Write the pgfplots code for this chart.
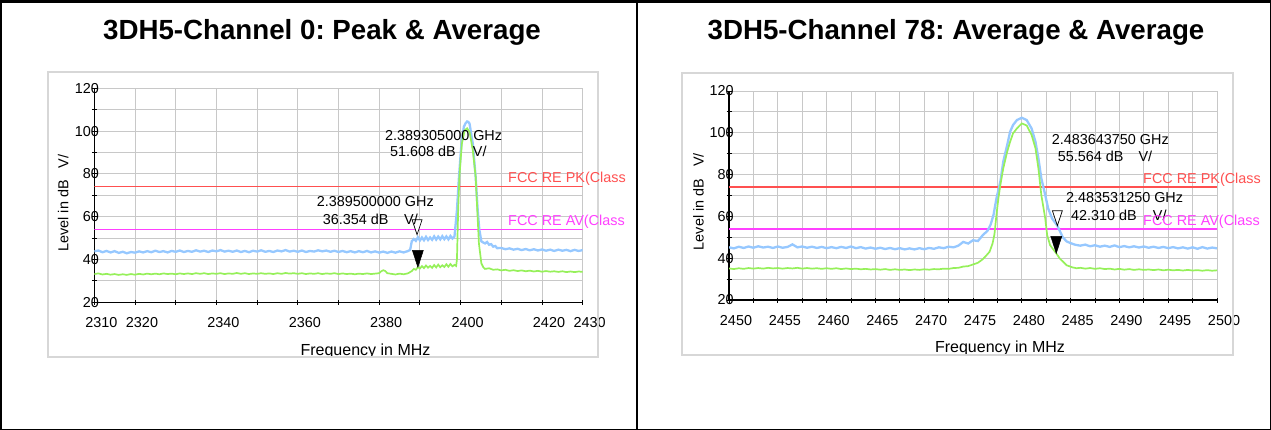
\documentclass[border=0pt]{standalone}
\usepackage{fontspec}
\setmainfont{Liberation Sans}
\usepackage{pgfplots}
\pgfplotsset{compat=1.18}
\frenchspacing
\definecolor{trblue}{RGB}{150,200,255}
\definecolor{trgreen}{RGB}{150,240,90}
\definecolor{limred}{RGB}{255,80,80}
\definecolor{limmag}{RGB}{255,64,255}
\definecolor{gridgray}{RGB}{200,200,200}
\definecolor{boxgray}{RGB}{215,215,215}
\newcommand{\tk}{\fontsize{14.4}{17}\selectfont}
\newcommand{\lb}{\fontsize{16}{19}\selectfont}
\newcommand{\ttl}{\fontsize{27.7}{32}\selectfont\bfseries}
\pgfdeclareplotmark{mkopen}{%
  \pgfpathmoveto{\pgfqpoint{0pt}{0pt}}%
  \pgfpathlineto{\pgfqpoint{-5pt}{15pt}}%
  \pgfpathlineto{\pgfqpoint{5pt}{15pt}}%
  \pgfpathclose\pgfusepathqfillstroke}
\pgfdeclareplotmark{mkfill}{%
  \pgfpathmoveto{\pgfqpoint{0pt}{0pt}}%
  \pgfpathlineto{\pgfqpoint{-5.5pt}{17pt}}%
  \pgfpathlineto{\pgfqpoint{5.5pt}{17pt}}%
  \pgfpathclose\pgfusepathqfillstroke}
\pgfplotsset{specax/.style={
  scale only axis, anchor=south west,
  axis x line*=bottom, axis y line*=left,
  axis line style={-, black, line width=1.2pt},
  grid=major, major grid style={gridgray, line width=0.9pt},
  ymin=20, ymax=120, ytick={20,30,...,120},
  yticklabels={20,,40,,60,,80,,100,,120},
  tick align=center, major tick length=5pt,
  tick style={black, line width=0.9pt},
  /pgf/number format/assume math mode=true,
  ticklabel style={font=\tk},
  xticklabel style={anchor=north, inner sep=0pt, xshift=7pt, yshift=-12.5pt},
  yticklabel style={anchor=east, inner sep=0pt, xshift=7.4pt},
  xlabel={Frequency in MHz}, ylabel={Level in dB\hspace{12pt}V/},
  xlabel style={at={(axis description cs:0.5,0)}, anchor=base, xshift=27pt, yshift=-52.7pt, inner sep=0pt, font=\lb},
  ylabel style={anchor=center, inner sep=0pt, font=\tk},
}}
\begin{document}
\begin{tikzpicture}
% ---------------- left panel ----------------
\begin{axis}[specax, at={(94.3pt,-302.3pt)}, width=488.4pt, height=214pt,
  xmin=2310, xmax=2430, xtick={2310,2320,...,2430},
  xticklabels={2310,2320,,2340,,2360,,2380,,2400,,2420,2430},
  ylabel style={at={(axis description cs:-0.0635,0.464)}}]
\addplot[limred, line width=1.3pt] coordinates {(2310,74) (2430,74)};
\addplot[limmag, line width=1.3pt] coordinates {(2310,54) (2430,54)};
\addplot[trblue, line width=2.3pt] coordinates {
(2310,43.8)(2311,44.2)(2312,43.4)(2313,44.0)(2314,43.3)(2315,43.9)(2316,43.1)(2317,43.6)(2318,42.9)(2319,43.5)
(2320,43.2)(2321,43.8)(2322,43.3)(2323,43.9)(2324,43.4)(2325,44.1)(2326,43.5)(2327,43.9)(2328,43.3)(2329,44.0)
(2330,43.6)(2331,44.2)(2332,43.5)(2333,44.0)(2334,43.6)(2335,44.3)(2336,43.7)(2337,44.1)(2338,43.5)(2339,44.2)
(2340,43.8)(2341,44.4)(2342,43.7)(2343,44.1)(2344,43.6)(2345,44.2)(2346,43.5)(2347,44.0)(2348,43.4)(2349,44.1)
(2350,43.7)(2351,44.3)(2352,43.6)(2353,44.0)(2354,43.5)(2355,44.2)(2356,43.8)(2357,44.4)(2358,43.7)(2359,44.1)
(2360,43.6)(2361,44.2)(2362,43.5)(2363,44.0)(2364,43.7)(2365,44.3)(2366,43.8)(2367,44.2)(2368,43.6)(2369,44.1)
(2370,43.5)(2371,44.0)(2372,43.4)(2373,43.9)(2374,43.3)(2375,43.9)(2376,43.4)(2377,44.0)(2378,43.3)(2379,43.8)
(2380,43.2)(2381,43.7)(2382,43.1)(2383,43.7)(2384,43.2)(2385,43.8)(2386,43.3)(2387,43.9)(2387.6,44.5)
(2388,48.5)(2388.5,49.6)(2389,48.7)(2389.5,50.4)(2390,48.9)(2390.5,50.3)(2391,49.0)(2391.5,50.6)(2392,49.1)(2392.5,50.3)
(2393,49.2)(2393.5,50.8)(2394,49.3)(2394.5,50.7)(2395,49.4)(2395.5,50.9)(2396,49.5)(2396.5,50.8)(2397,49.4)(2397.5,51.0)
(2398,49.8)(2398.5,50.8)(2399.1,63)(2399.6,78.6)(2400.2,94)(2400.8,102)(2401.2,103.6)(2401.6,104.5)(2401.9,104.3)(2402.2,103.5)
(2403.0,94)(2403.7,78.6)(2404.2,63)(2404.6,54)(2405.1,48.5)(2405.5,48.0)(2406,47.5)(2406.5,48.2)(2407,46.9)(2407.5,47.2)
(2408,46.0)(2408.5,46.3)(2409,45.3)(2410,45.4)(2411,44.8)(2412,45.2)(2413,44.6)(2414,45.0)(2415,44.4)(2416,44.9)
(2417,44.3)(2418,44.8)(2419,44.2)(2420,44.7)(2421,44.1)(2422,44.6)(2423,44.0)(2424,44.6)(2425,44.1)(2426,44.5)
(2427,43.9)(2428,44.5)(2429,44.0)(2430,44.4)};
\addplot[trgreen, line width=1.7pt] coordinates {
(2310,33.2)(2311,33.5)(2312,33.0)(2313,33.3)(2314,32.9)(2315,33.2)(2316,32.8)(2317,33.1)(2318,32.8)(2319,33.2)
(2320,32.9)(2321,33.3)(2322,33.0)(2323,33.4)(2324,33.1)(2325,33.4)(2326,33.1)(2327,33.5)(2328,33.2)(2329,33.4)
(2330,33.1)(2331,33.5)(2332,33.2)(2333,33.5)(2334,33.2)(2335,33.6)(2336,33.3)(2337,33.6)(2338,33.2)(2339,33.5)
(2340,33.3)(2341,33.6)(2342,33.2)(2343,33.5)(2344,33.3)(2345,33.7)(2346,33.3)(2347,33.6)(2348,33.2)(2349,33.5)
(2350,33.3)(2351,33.6)(2352,33.3)(2353,33.5)(2354,33.2)(2355,33.6)(2356,33.3)(2357,33.7)(2358,33.4)(2359,33.6)
(2360,33.3)(2361,33.6)(2362,33.2)(2363,33.5)(2364,33.3)(2365,33.6)(2366,33.2)(2367,33.5)(2368,33.3)(2369,33.6)
(2370,33.2)(2371,33.5)(2372,33.2)(2373,33.4)(2374,33.1)(2375,33.4)(2376,33.2)(2377,33.5)(2378,33.2)(2379,33.4)
(2380,33.6)(2380.5,34.5)(2381,35.0)(2381.5,34.6)(2382,33.6)(2383,33.3)(2384,33.0)(2385,33.4)(2386,33.1)(2387,33.5)
(2387.5,34.0)(2388,34.6)(2388.5,35.6)(2389,35.2)(2389.5,36.4)(2390,35.8)(2390.5,36.9)(2391,36.0)(2391.5,37.2)(2392,36.2)
(2392.5,37.0)(2393,36.1)(2393.5,37.4)(2394,36.3)(2394.5,37.6)(2395,36.4)(2395.5,37.3)(2396,36.5)(2396.5,37.8)(2397,36.6)
(2397.5,37.9)(2398,36.8)(2398.5,37.5)(2398.9,37.0)(2399.1,40)(2399.2,47.5)(2399.4,63)(2399.7,78.6)(2400.3,94)(2401.0,100.4)
(2401.6,101.3)(2402.2,99.6)(2403.0,91)(2403.7,78.6)(2404.1,63)(2404.5,47.5)(2405.1,38.2)(2405.6,36.3)(2406,35.6)(2407,35.9)
(2408,35.2)(2409,35.4)(2410,34.9)(2411,35.2)(2412,34.7)(2413,35.0)(2414,34.6)(2415,34.9)(2416,34.5)(2417,34.8)
(2418,34.4)(2419,34.7)(2420,34.3)(2421,34.6)(2422,34.3)(2423,34.5)(2424,34.2)(2425,34.5)(2426,34.1)(2427,34.4)
(2428,34.1)(2429,34.4)(2430,34.2)};
\addplot[only marks, mark=mkopen, mark options={draw=black, fill=white, line width=0.7pt}] coordinates {(2389.305,51.608)};
\addplot[only marks, mark=mkfill, mark options={draw=black, fill=black, line width=0.5pt}] coordinates {(2389.5,36.354)};
\end{axis}
% ---------------- right panel ----------------
\begin{axis}[specax, at={(729pt,-300pt)}, width=488pt, height=209pt,
  xmin=2450, xmax=2500, xtick={2450,2452.5,...,2500},
  xticklabels={2450,,2455,,2460,,2465,,2470,,2475,,2480,,2485,,2490,,2495,,2500},
  ylabel style={at={(axis description cs:-0.0625,0.47)}}]
\addplot[limred, line width=1.3pt] coordinates {(2450,74) (2500,74)};
\addplot[limmag, line width=1.3pt] coordinates {(2450,54) (2500,54)};
\addplot[trblue, line width=2.3pt] coordinates {
(2450,45.2)(2450.5,44.7)(2451,45.5)(2451.5,44.9)(2452,45.6)(2452.5,45.0)(2453,45.7)(2453.5,45.1)(2454,45.5)(2454.5,44.9)
(2455,45.6)(2455.5,45.0)(2456,45.4)(2456.5,46.6)(2457,45.2)(2457.5,45.6)(2458,45.0)(2458.5,45.5)(2459,44.9)(2459.5,45.4)
(2460,44.8)(2460.5,45.3)(2461,44.8)(2461.5,45.4)(2462,44.9)(2462.5,45.6)(2463,44.8)(2463.5,45.3)(2464,44.6)(2464.5,45.1)
(2465,44.5)(2465.5,45.0)(2466,44.4)(2466.5,44.9)(2467,44.3)(2467.5,44.8)(2468,44.2)(2468.5,44.7)(2469,44.2)(2469.5,44.8)
(2470,44.3)(2470.5,44.9)(2471,44.5)(2471.5,45.2)(2472,44.8)(2472.5,45.5)(2473,45.2)(2473.5,46.0)(2474,47.8)(2474.5,47.0)
(2475,48.6)(2475.5,48.2)(2476,51.0)(2476.5,53.2)(2476.8,56)(2477.1,60.7)(2477.4,68.6)(2477.8,76.6)(2478.1,86.2)(2478.5,94.1)
(2478.8,100.5)(2479.1,103.7)(2479.5,106.1)(2480.0,107.2)(2480.5,106.1)(2481.0,102.1)(2481.4,95.7)(2481.7,87.8)(2482.0,78.2)(2482.4,70.2)
(2482.7,63.8)(2483.1,59.0)(2483.64,55.56)(2484.2,50.0)(2484.6,48.0)(2485,47.2)(2485.5,46.4)(2486,46.0)(2486.5,46.5)(2487,45.7)
(2487.5,46.2)(2488,45.5)(2488.5,46.0)(2489,45.4)(2489.5,46.1)(2490,45.3)(2490.5,45.8)(2491,45.2)(2491.5,45.7)(2492,45.1)
(2492.5,45.6)(2493,45.0)(2493.5,45.5)(2494,44.9)(2494.5,45.4)(2495,44.8)(2495.5,45.3)(2496,44.7)(2496.5,45.2)(2497,44.6)
(2497.5,45.2)(2498,44.5)(2498.5,45.3)(2499,44.6)(2499.5,45.1)(2500,44.7)};
\addplot[trgreen, line width=1.7pt] coordinates {
(2450,35.1)(2450.5,34.8)(2451,35.2)(2451.5,34.9)(2452,35.3)(2452.5,35.0)(2453,35.3)(2453.5,35.0)(2454,35.4)(2454.5,35.1)
(2455,35.3)(2455.5,35.0)(2456,35.3)(2456.5,35.1)(2457,35.4)(2457.5,35.0)(2458,35.3)(2458.5,35.0)(2459,35.2)(2459.5,34.9)
(2460,35.2)(2460.5,34.9)(2461,35.2)(2461.5,34.8)(2462,35.1)(2462.5,34.8)(2463,35.0)(2463.5,34.7)(2464,34.9)(2464.5,34.6)
(2465,34.8)(2465.5,34.5)(2466,34.8)(2466.5,34.4)(2467,34.7)(2467.5,34.4)(2468,34.6)(2468.5,34.3)(2469,34.6)(2469.5,34.4)
(2470,34.7)(2470.5,34.5)(2471,34.8)(2471.5,34.7)(2472,35.0)(2472.5,34.9)(2473,35.3)(2473.5,35.4)(2474,36.0)(2474.5,36.2)
(2475,37.0)(2475.5,37.8)(2476,39.5)(2476.4,41.5)(2476.7,43.1)(2477.0,47)(2477.2,51.5)(2477.4,60.7)(2477.6,68.6)(2477.8,75.0)
(2478.1,83.0)(2478.5,90.9)(2478.8,95.7)(2479.1,99.7)(2479.5,102.1)(2480.0,104.5)(2480.5,103.5)(2481.0,99.0)(2481.4,92.6)(2481.7,83.0)
(2482.0,70.2)(2482.4,59.0)(2482.6,51.0)(2482.9,46.2)(2483.53,42.31)(2483.9,39.8)(2484.6,36.6)(2485.2,35.6)(2485.6,35.2)(2486,35.4)
(2486.5,35.0)(2487,35.3)(2487.5,34.9)(2488,35.2)(2488.5,34.8)(2489,35.0)(2489.5,34.6)(2490,34.9)(2490.5,34.5)(2491,34.8)
(2491.5,34.4)(2492,34.7)(2492.5,34.4)(2493,34.6)(2493.5,34.3)(2494,34.6)(2494.5,34.2)(2495,34.5)(2495.5,34.2)(2496,34.4)
(2496.5,34.1)(2497,34.4)(2497.5,34.1)(2498,34.3)(2498.5,34.0)(2499,34.3)(2499.5,34.0)(2500,34.2)};
\addplot[only marks, mark=mkopen, mark options={draw=black, fill=white, line width=0.7pt}] coordinates {(2483.64375,55.564)};
\addplot[only marks, mark=mkfill, mark options={draw=black, fill=black, line width=0.5pt}] coordinates {(2483.53125,42.31)};
\end{axis}
% boxes
\fill[white] (47pt,-357.5pt) rectangle (600pt,-362pt);
\fill[white] (681pt,-355.5pt) rectangle (1235pt,-360pt);
\draw[boxgray, line width=2pt] (48.3pt,-71.7pt) rectangle (598.3pt,-357.3pt);
\draw[boxgray, line width=2pt] (682.3pt,-72.7pt) rectangle (1233.3pt,-355pt);
% titles
\node[font=\ttl, anchor=base, inner sep=0pt] at (322pt,-39.9pt) {3DH5-Channel 0: Peak \& Average};
\node[font=\ttl, anchor=base, inner sep=0pt] at (956pt,-39.9pt) {3DH5-Channel 78: Average \& Average};
% annotations left
\begin{scope}[every node/.style={font=\tk, anchor=base west, inner sep=0pt}]
\node at (385pt,-140.2pt) {2.389305000 GHz};
\node at (390pt,-156.9pt) {51.608 dB};
\node at (472.7pt,-156.9pt) {V/};
\node at (316.7pt,-206.2pt) {2.389500000 GHz};
\node at (322.7pt,-224.2pt) {36.354 dB};
\node at (404pt,-224.2pt) {V/};
\node[text=limred] at (508pt,-182.5pt) {FCC RE PK(Class};
\node[text=limmag] at (508pt,-225.2pt) {FCC RE AV(Class};
% annotations right
\node at (1051.7pt,-144.5pt) {2.483643750 GHz};
\node at (1057.7pt,-161.9pt) {55.564 dB};
\node at (1138.3pt,-161.9pt) {V/};
\node at (1066pt,-202.9pt) {2.483531250 GHz};
\node at (1071pt,-220.2pt) {42.310 dB};
\node at (1152.7pt,-220.2pt) {V/};
\node[text=limred] at (1143pt,-183.5pt) {FCC RE PK(Class};
\node[text=limmag] at (1143pt,-225.2pt) {FCC RE AV(Class};
\end{scope}
% outer frame
\draw[black, line width=1.5pt] (0.75pt,-0.75pt) rectangle (1270.25pt,-429.25pt);
\draw[black, line width=3pt] (0pt,-1.5pt) -- (1271pt,-1.5pt);
\draw[black, line width=1.5pt] (637pt,0pt) -- (637pt,-430pt);
\pgfresetboundingbox
\useasboundingbox (0pt,0pt) rectangle (1271pt,-430pt);
\end{tikzpicture}
\end{document}
